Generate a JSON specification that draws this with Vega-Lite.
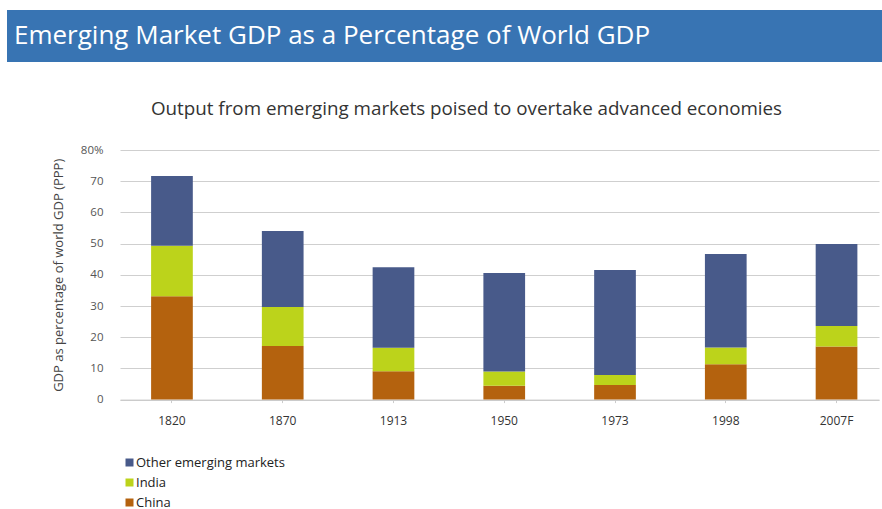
{
  "$schema": "https://vega.github.io/schema/vega-lite/v6.json",
  "padding": {"left": 7, "top": 10, "right": 0, "bottom": 0},
  "background": "white",
  "spacing": 38,
  "center": true,
  "bounds": "full",
  "resolve": {"legend": {"color": "independent"}},
  "config": {"view": {"stroke": null}, "font": "Open Sans"},
  "vconcat": [
    {
      "width": 985,
      "height": 52,
      "data": {"values": [{"h": "header"}]},
      "mark": {"type": "rect", "color": "#3874b3"},
      "encoding": {},
      "title": {
        "text": "Emerging Market GDP as a Percentage of World GDP",
        "anchor": "start",
        "orient": "top",
        "offset": -39,
        "dx": 7,
        "fontSize": 26,
        "fontWeight": "normal",
        "color": "white",
        "font": "Open Sans"
      }
    },
    {
      "width": 759,
      "height": 249.6,
      "title": {
        "text": "Output from emerging markets poised to overtake advanced economies",
        "frame": "group",
        "anchor": "middle",
        "dx": -33,
        "fontSize": 18.8,
        "fontWeight": "normal",
        "color": "#333333",
        "offset": 25
      },
      "data": {
        "values": [
          {"year": "1820", "region": "China", "ord": 1, "value": 33.1},
          {"year": "1820", "region": "India", "ord": 2, "value": 16.2},
          {"year": "1820", "region": "Other emerging markets", "ord": 3, "value": 22.4},
          {"year": "1870", "region": "China", "ord": 1, "value": 17.2},
          {"year": "1870", "region": "India", "ord": 2, "value": 12.5},
          {"year": "1870", "region": "Other emerging markets", "ord": 3, "value": 24.3},
          {"year": "1913", "region": "China", "ord": 1, "value": 9.1},
          {"year": "1913", "region": "India", "ord": 2, "value": 7.5},
          {"year": "1913", "region": "Other emerging markets", "ord": 3, "value": 25.8},
          {"year": "1950", "region": "China", "ord": 1, "value": 4.4},
          {"year": "1950", "region": "India", "ord": 2, "value": 4.6},
          {"year": "1950", "region": "Other emerging markets", "ord": 3, "value": 31.6},
          {"year": "1973", "region": "China", "ord": 1, "value": 4.7},
          {"year": "1973", "region": "India", "ord": 2, "value": 3.2},
          {"year": "1973", "region": "Other emerging markets", "ord": 3, "value": 33.6},
          {"year": "1998", "region": "China", "ord": 1, "value": 11.3},
          {"year": "1998", "region": "India", "ord": 2, "value": 5.4},
          {"year": "1998", "region": "Other emerging markets", "ord": 3, "value": 30.0},
          {"year": "2007F", "region": "China", "ord": 1, "value": 17.0},
          {"year": "2007F", "region": "India", "ord": 2, "value": 6.6},
          {"year": "2007F", "region": "Other emerging markets", "ord": 3, "value": 26.3}
        ]
      },
      "mark": {"type": "bar"},
      "encoding": {
        "x": {
          "field": "year",
          "type": "nominal",
          "sort": null,
          "scale": {"paddingInner": 0.6235, "paddingOuter": 0.238, "align": 0.59},
          "axis": {
            "title": null,
            "labelAngle": 0,
            "domain": true,
            "domainColor": "#c8c8c8",
            "ticks": true,
            "tickSize": 3,
            "tickColor": "#cccccc",
            "labelFontSize": 12,
            "labelColor": "#333333",
            "labelPadding": 13
          }
        },
        "y": {
          "field": "value",
          "type": "quantitative",
          "stack": "zero",
          "scale": {"domain": [0, 80]},
          "axis": {
            "values": [0, 10, 20, 30, 40, 50, 60, 70, 80],
            "title": "GDP as percentage of world GDP (PPP)",
            "titleFontSize": 13,
            "titleFontWeight": "normal",
            "titleColor": "#444444",
            "titlePadding": 15,
            "labelExpr": "datum.value == 80 ? '80%' : datum.label",
            "labelFontSize": 11.5,
            "labelColor": "#555555",
            "labelPadding": 17,
            "ticks": false,
            "domain": false,
            "gridColor": "#cfcfcf"
          }
        },
        "color": {
          "field": "region",
          "type": "nominal",
          "scale": {
            "domain": ["Other emerging markets", "India", "China"],
            "range": ["#485a8a", "#bcd31b", "#b4620e"]
          },
          "legend": {
            "title": null,
            "orient": "bottom",
            "direction": "vertical",
            "symbolType": "square",
            "symbolSize": 64,
            "symbolStrokeWidth": 0,
            "labelFontSize": 13,
            "labelColor": "#222222",
            "labelOffset": 0,
            "rowPadding": 6,
            "padding": 3,
            "offset": 26
          }
        },
        "order": {"field": "ord", "type": "quantitative"}
      }
    }
  ]
}
